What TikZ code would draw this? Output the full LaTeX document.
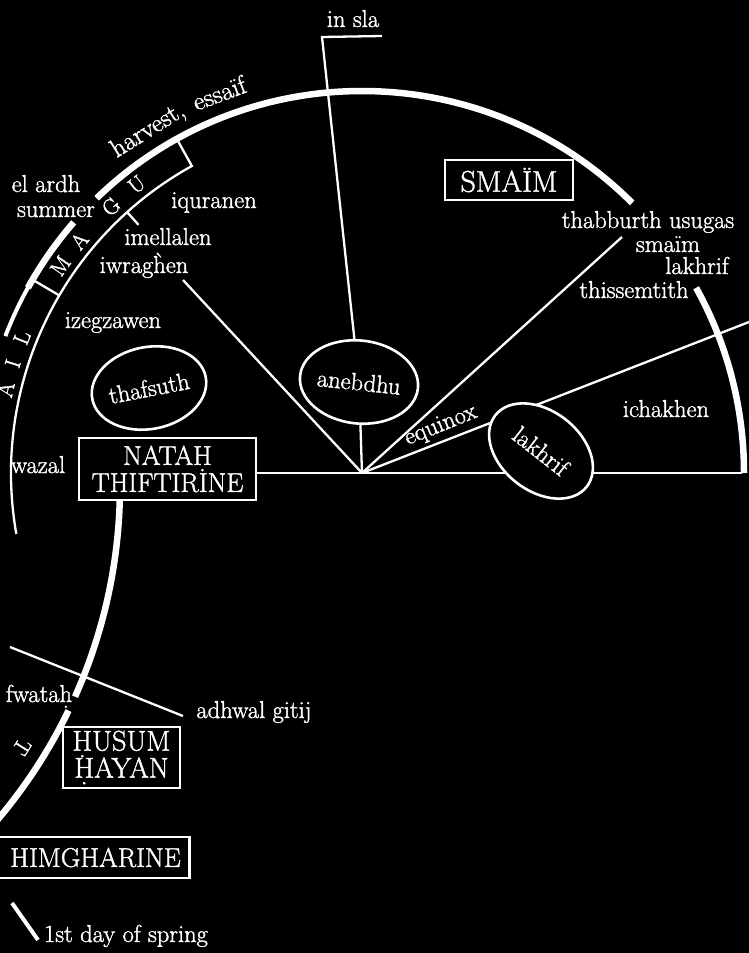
\documentclass[tikz,border=0pt]{standalone}
\usepackage{fontspec}
\setmainfont{Latin Modern Roman}[FakeBold=1.4]
\usetikzlibrary{calc,shapes.geometric}
\newcommand\udot[1]{\ooalign{#1\cr\hidewidth\raisebox{-0.55ex}{.}\hidewidth\cr}}
\newcommand\hgrave{\ooalign{h\cr\hidewidth\raisebox{0.3ex}{\textasciigrave}\hidewidth\cr}}
\begin{document}
\begin{tikzpicture}[x=1pt,y=1pt,
  every node/.style={text=white, font=\fontsize{24.5}{26}\selectfont, inner sep=0pt},
  thinline/.style={draw=white, line width=2.3pt},
  thickarc/.style={draw=white, line width=6.5pt},
  box/.style={draw=white, line width=2.6pt, fill=black, font=\fontsize{28.5}{27}\selectfont, align=center},
  oval/.style={ellipse, draw=white, line width=2.6pt, fill=black, inner sep=0pt},
  lbl/.style={anchor=base},
  arclbl/.style={anchor=base, font=\fontsize{26}{28}\selectfont},
  bandletter/.style={font=\fontsize{22}{22}\selectfont}]
\useasboundingbox (0,-953) rectangle (749,0);
\fill[black] (0,-953) rectangle (749,0);
\clip (0,-953) rectangle (749,0);
\coordinate (C) at (362,-473);
\coordinate (L0) at (-396,-486);

% outer thick arcs
\draw[thickarc] ($(C)+(0:382)$) arc (0:29:382);
\draw[thickarc] ($(C)+(45:382)$) arc (45:134:382);
\draw[thickarc] ($(C)+(139:382)$) arc (139:151:382);
\draw[draw=white, line width=4pt] ($(C)+(150:382)$) arc (150:159:382);
% inner thin arc with bracket, divider and tick
\draw[thinline] ($(C)+(119:382)$) -- ($(C)+(119:351)$) arc (119:190:351);
\draw[thinline] ($(C)+(149.6:351)$) -- ($(C)+(149.6:382)$);
\draw[thinline] ($(C)+(132:351)$) -- ($(C)+(132:334)$);
% lower thick arc
\draw[thickarc] ($(L0)+(-1.6:516)$) arc (-1.6:-24.1:516);
\draw[thickarc] ($(L0)+(-25.8:516)$) arc (-25.8:-42:516);
% adhwal gitij line and spring line
\coordinate (adL) at (10,-647);
\coordinate (adR) at (183,-716);
\draw[thinline] (adL) -- (adR);
\coordinate (spA) at (12,-903);
\coordinate (spB) at (38,-940);
\draw[draw=white, line width=4pt] (spA) -- (spB);

% boxes
\node[box, font=\fontsize{30}{27}\selectfont, minimum width=128pt, minimum height=40pt] (smaim) at (509,-180) {SMAÏM};
\node[box, font=\fontsize{27}{27}\selectfont, minimum width=177pt, minimum height=62pt] (natah) at (167.5,-469) {NATA\udot{H}\\THIFTIRINE};
\node[box, minimum width=117pt, minimum height=61pt] (husum) at (121.5,-757.5) {\udot{H}USUM\\\udot{H}AYAN};
\node[box, font=\fontsize{27}{27}\selectfont, anchor=east, text width=200pt, align=right, inner xsep=9pt, minimum height=41pt] (him) at (191,-857.5) {HIMGHARINE};

% ellipses
\node[oval, minimum width=114pt, minimum height=82pt, rotate=11] (thafsuth) at (149,-388) {thafsuth};
\node[oval, minimum width=112pt, minimum height=83pt, rotate=-6] (anebdhu) at (359,-382) {anebdhu};

% connectors
\coordinate (rEnd) at (742,-473);
\draw[thinline] (natah.east |- C) -- (rEnd);
\coordinate (eqE) at (749,-322);
\draw[thinline] (C) -- (eqE);
\coordinate (iwE) at (183,-280);
\draw[thinline] (C) -- (iwE);
\draw[thinline] (C) -- (anebdhu);
\coordinate (slaTop) at (322,-37);
\coordinate (slaR) at (382,-36);
\draw[thinline] (slaR) -- (slaTop) -- (anebdhu);
\coordinate (thabE) at (622,-237);
\draw[thinline] (C) -- (thabE);
\node[oval, minimum width=116pt, minimum height=80pt, rotate=-38] (lakhrif) at (541,-451) {lakhrif};

% arc texts
\node[arclbl, rotate=32] (harvest) at ($(C)+(122:397)$) {harvest,};
\node[arclbl, rotate=20.6] (essaif) at ($(C)+(110.6:397)$) {essaïf};
% band letters
\foreach \a/\t in {128/U, 133.3/G, 140.6/A, 145.5/M, 158.3/L, 162.6/I, 166.8/A}
  \node[bandletter, rotate=\a-90] at ($(C)+(\a:366)$) {\t};
\node[bandletter, rotate=-122] (tletter) at (22,-747) {T};

% labels
\node[lbl] (insla) at (353,-27) {in sla};
\node[lbl] (elardh) at (46,-192) {el ardh};
\node[lbl] (summer) at (56,-217) {summer};
\node[lbl] (iquranen) at (214,-208) {iquranen};
\node[lbl] (imellalen) at (168,-245) {imellalen};
\node[lbl] (iwraghen) at (144,-273) {iwrag\hgrave en};
\node[lbl] (izegzawen) at (113,-328) {izegzawen};
\node[lbl] (thabburth) at (648,-228) {thabburth usugas};
\node[lbl] (smaimlbl) at (668,-252) {smaïm};
\node[lbl] (lakhriflbl) at (697,-274) {lakhrif};
\node[lbl] (thissemtith) at (634,-298) {thissemtith};
\node[lbl] (ichakhen) at (666,-417) {ichakhen};
\node[lbl, rotate=22] (equinox) at (443,-431) {equinox};
\node[lbl] (wazal) at (38,-473) {wazal};
\node[lbl] (fwatah) at (39,-702) {fwata\udot{h}};
\node[lbl] (adhwal) at (254,-718) {adhwal gitij};
\node[lbl] (spring) at (126,-942) {1st day of spring};
\end{tikzpicture}
\end{document}
